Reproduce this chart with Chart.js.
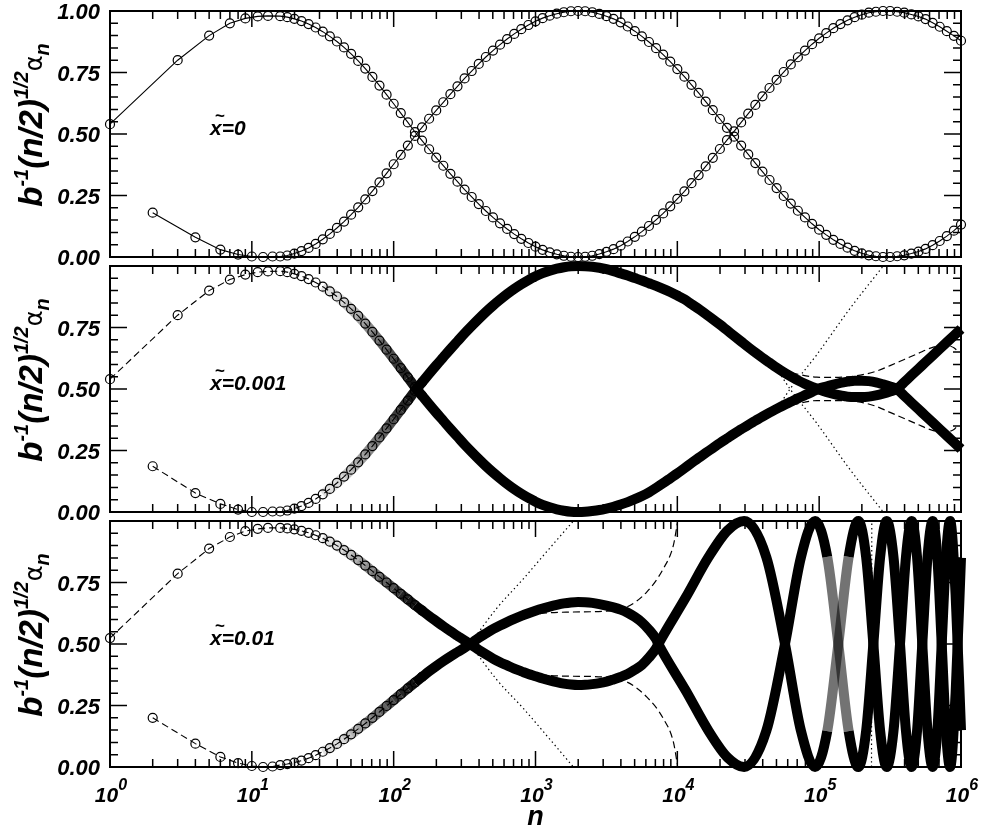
<!DOCTYPE html>
<html>
<head>
<meta charset="utf-8">
<style>
  html, body { margin: 0; padding: 0; background: #fff; }
  #wrap { position: relative; width: 982px; height: 828px; }
  #wrap canvas { position: absolute; left: 0; top: 0; }
</style>
<script src="https://cdn.jsdelivr.net/npm/chart.js@4.4.1/dist/chart.umd.min.js"></script>
</head>
<body>
<div id="wrap">
  <canvas id="pTop" width="982" height="828"></canvas>
  <canvas id="pMid" width="982" height="828"></canvas>
  <canvas id="pBot" width="982" height="828"></canvas>
</div>
<script>
// ---- data ----
const xDecades = [0, 1, 2, 3, 4, 5, 6];
const yTickLabels = ['0.00', '0.25', '0.50', '0.75', '1.00'];
const panelTags = ['=0', '=0.001', '=0.01'];

// first few n (odd n for one branch, even n for the other)
const nOdd = [1, 3, 5, 7, 9, 11, 13];
const nEven = [2, 4, 6, 8, 10, 12, 14];

// log10(n) sampling used for the long parts of the curves
const logGrid = [
  1.20, 1.25, 1.30, 1.35, 1.40, 1.45, 1.50, 1.55, 1.60, 1.65,
  1.70, 1.75, 1.80, 1.85, 1.90, 1.95, 2.00, 2.05, 2.10, 2.15,
  2.20, 2.25, 2.30, 2.35, 2.40, 2.45, 2.50, 2.55, 2.60, 2.65,
  2.70, 2.75, 2.80, 2.85, 2.90, 2.95, 3.00, 3.05, 3.10, 3.15,
  3.20, 3.25, 3.30, 3.35, 3.40, 3.45, 3.50, 3.55, 3.60, 3.65,
  3.70, 3.75, 3.80, 3.85, 3.90, 3.95, 4.00, 4.05, 4.10, 4.15,
  4.20, 4.25, 4.30, 4.35, 4.40, 4.45, 4.50, 4.55, 4.60, 4.65,
  4.70, 4.75, 4.80, 4.85, 4.90, 4.95, 5.00, 5.05, 5.10, 5.15,
  5.20, 5.25, 5.30, 5.35, 5.40, 5.45, 5.50, 5.55, 5.60, 5.65,
  5.70, 5.75, 5.80, 5.85, 5.90, 5.95, 6.00
];

// panel 1, x~=0
const topASmall = [0.54, 0.80, 0.90, 0.95, 0.97, 0.978, 0.98];
const topBSmall = [0.18, 0.08, 0.03, 0.01, 0.002, 0.0, 0.002];
const topA = [
  0.979, 0.975, 0.968, 0.959, 0.947, 0.933, 0.916, 0.897, 0.876, 0.852,
  0.826, 0.797, 0.766, 0.732, 0.697, 0.660, 0.623, 0.585, 0.547, 0.508,
  0.473, 0.438, 0.404, 0.371, 0.338, 0.306, 0.274, 0.244, 0.215, 0.187,
  0.161, 0.137, 0.114, 0.093, 0.074, 0.057, 0.042, 0.029, 0.019, 0.011,
  0.005, 0.001, 0.000, 0.001, 0.005, 0.012, 0.021, 0.032, 0.046, 0.063,
  0.082, 0.103, 0.126, 0.151, 0.177, 0.206, 0.236, 0.267, 0.300, 0.333,
  0.368, 0.403, 0.439, 0.475, 0.511, 0.547, 0.583, 0.618, 0.653, 0.687,
  0.720, 0.752, 0.783, 0.812, 0.839, 0.865, 0.889, 0.910, 0.930, 0.947,
  0.962, 0.975, 0.985, 0.993, 0.997, 1.000, 1.000, 0.997, 0.993, 0.986,
  0.978, 0.967, 0.952, 0.936, 0.918, 0.899, 0.879
];
const topB = [
  0.002, 0.006, 0.014, 0.024, 0.037, 0.053, 0.072, 0.094, 0.118, 0.144,
  0.172, 0.202, 0.234, 0.268, 0.303, 0.340, 0.377, 0.415, 0.453, 0.492,
  0.527, 0.562, 0.596, 0.629, 0.662, 0.694, 0.726, 0.756, 0.785, 0.813,
  0.839, 0.863, 0.886, 0.907, 0.926, 0.943, 0.958, 0.971, 0.981, 0.989,
  0.995, 0.999, 1.000, 0.999, 0.995, 0.988, 0.979, 0.968, 0.954, 0.937,
  0.918, 0.897, 0.874, 0.849, 0.823, 0.794, 0.764, 0.733, 0.700, 0.667,
  0.632, 0.597, 0.561, 0.525, 0.489, 0.453, 0.417, 0.382, 0.347, 0.313,
  0.280, 0.248, 0.217, 0.188, 0.161, 0.135, 0.111, 0.090, 0.070, 0.053,
  0.038, 0.025, 0.015, 0.007, 0.003, 0.000, 0.000, 0.003, 0.007, 0.014,
  0.022, 0.033, 0.048, 0.065, 0.085, 0.107, 0.132
];

// panel 2, x~=0.001
const midASmall = [0.54, 0.80, 0.90, 0.945, 0.965, 0.975, 0.978];
const midBSmall = [0.186, 0.077, 0.033, 0.01, 0.0, 0.0, 0.002];
const midA = [
  0.979, 0.975, 0.968, 0.959, 0.947, 0.933, 0.916, 0.897, 0.876, 0.852,
  0.826, 0.797, 0.766, 0.732, 0.697, 0.660, 0.623, 0.585, 0.547, 0.508,
  0.473, 0.438, 0.404, 0.371, 0.338, 0.306, 0.274, 0.244, 0.215, 0.187,
  0.161, 0.137, 0.114, 0.093, 0.074, 0.057, 0.042, 0.029, 0.019, 0.011,
  0.005, 0.001, 0.000, 0.001, 0.004, 0.008, 0.014, 0.021, 0.030, 0.040,
  0.052, 0.065, 0.080, 0.098, 0.117, 0.137, 0.157, 0.178, 0.199, 0.220,
  0.240, 0.260, 0.280, 0.299, 0.318, 0.336, 0.354, 0.371, 0.388, 0.404,
  0.419, 0.434, 0.448, 0.462, 0.475, 0.488, 0.502, 0.510, 0.518, 0.525,
  0.530, 0.534, 0.534, 0.532, 0.527, 0.519, 0.510, 0.499, 0.472, 0.445,
  0.418, 0.391, 0.364, 0.337, 0.310, 0.283, 0.256
];
const midB = [
  0.002, 0.006, 0.014, 0.024, 0.037, 0.053, 0.072, 0.094, 0.118, 0.144,
  0.172, 0.202, 0.234, 0.268, 0.303, 0.340, 0.377, 0.415, 0.453, 0.492,
  0.527, 0.562, 0.596, 0.629, 0.662, 0.694, 0.726, 0.756, 0.785, 0.813,
  0.839, 0.863, 0.886, 0.907, 0.926, 0.943, 0.958, 0.971, 0.981, 0.989,
  0.995, 0.999, 1.000, 0.999, 0.997, 0.993, 0.987, 0.979, 0.970, 0.961,
  0.951, 0.941, 0.930, 0.919, 0.907, 0.894, 0.880, 0.865, 0.845, 0.826,
  0.805, 0.784, 0.762, 0.739, 0.716, 0.693, 0.670, 0.648, 0.627, 0.607,
  0.587, 0.568, 0.551, 0.535, 0.521, 0.509, 0.498, 0.488, 0.480, 0.474,
  0.469, 0.467, 0.467, 0.469, 0.474, 0.481, 0.490, 0.501, 0.528, 0.555,
  0.582, 0.609, 0.636, 0.663, 0.690, 0.717, 0.744
];
const midDashLog = [4.60, 4.724, 4.85, 4.983, 5.10, 5.265, 5.40, 5.50, 5.60, 5.688, 5.805, 5.899, 5.95, 5.975];
const midDashUp = [0.627, 0.581, 0.560, 0.548, 0.547, 0.554, 0.572, 0.595, 0.620, 0.642, 0.670, 0.676, 0.668, 0.655];
const midDashLo = [0.373, 0.419, 0.440, 0.453, 0.453, 0.449, 0.430, 0.405, 0.380, 0.358, 0.331, 0.327, 0.335, 0.350];
const midDotLog = [4.70, 4.795, 4.98, 5.217, 5.452];
const midDotUp = [0.417, 0.50, 0.637, 0.827, 1.0];
const midDotLo = [0.583, 0.50, 0.363, 0.173, 0.0];

// panel 3, x~=0.01 (grid part runs 1.20 .. 3.85)
const botASmall = [0.524, 0.786, 0.888, 0.935, 0.959, 0.968, 0.972];
const botBSmall = [0.20, 0.095, 0.041, 0.016, 0.004, 0.0, 0.002];
const botA = [
  0.972, 0.970, 0.966, 0.960, 0.952, 0.942, 0.930, 0.916, 0.900, 0.882,
  0.862, 0.841, 0.819, 0.796, 0.773, 0.750, 0.727, 0.704, 0.681, 0.658,
  0.636, 0.614, 0.593, 0.572, 0.552, 0.533, 0.514, 0.496, 0.476, 0.458,
  0.441, 0.426, 0.413, 0.400, 0.389, 0.378, 0.369, 0.360, 0.352, 0.345,
  0.339, 0.335, 0.333, 0.334, 0.337, 0.341, 0.347, 0.356, 0.366, 0.378,
  0.395, 0.415, 0.445, 0.482
];
const botB = [
  0.008, 0.012, 0.018, 0.026, 0.036, 0.048, 0.062, 0.077, 0.094, 0.113,
  0.133, 0.155, 0.177, 0.200, 0.224, 0.248, 0.272, 0.296, 0.320, 0.343,
  0.366, 0.389, 0.410, 0.430, 0.449, 0.467, 0.485, 0.504, 0.525, 0.543,
  0.560, 0.575, 0.589, 0.602, 0.614, 0.625, 0.635, 0.644, 0.652, 0.659,
  0.665, 0.669, 0.671, 0.670, 0.667, 0.662, 0.656, 0.649, 0.640, 0.627,
  0.610, 0.588, 0.558, 0.520
];
const botLateLog = [3.866, 4.061, 4.221, 4.355, 4.471, 4.627, 4.759, 4.872, 4.971, 5.057,
  5.135, 5.208, 5.276, 5.331, 5.382, 5.430, 5.476, 5.524, 5.570, 5.612,
  5.652, 5.690, 5.727, 5.764, 5.800, 5.833, 5.864, 5.894, 5.923, 5.962, 6.000];
const botALate = [0.5, 0.691, 0.854, 0.962, 1.0, 0.854, 0.5, 0.146, 0.0, 0.146,
  0.5, 0.854, 1.0, 0.854, 0.5, 0.146, 0.0, 0.146, 0.5, 0.854,
  1.0, 0.854, 0.5, 0.146, 0.0, 0.146, 0.5, 0.854, 1.0, 0.70, 0.15];
const botBLate = [0.5, 0.309, 0.146, 0.038, 0.0, 0.146, 0.5, 0.854, 1.0, 0.854,
  0.5, 0.146, 0.0, 0.146, 0.5, 0.854, 1.0, 0.854, 0.5, 0.146,
  0.0, 0.146, 0.5, 0.854, 1.0, 0.854, 0.5, 0.146, 0.0, 0.30, 0.85];
const botDashLog = [2.54, 2.65, 2.797, 3.032, 3.267, 3.478, 3.643, 3.784, 3.901, 3.972, 4.0];
const botDashUp = [0.5, 0.545, 0.589, 0.623, 0.630, 0.633, 0.650, 0.711, 0.806, 0.901, 0.99];
const botDashLo = [0.5, 0.455, 0.413, 0.376, 0.369, 0.366, 0.346, 0.285, 0.197, 0.102, 0.012];
const botDotLog = [2.538, 2.725, 2.916, 3.077, 3.267];
const botDotUp = [0.5, 0.644, 0.766, 0.874, 1.0];
const botDotLo = [0.5, 0.356, 0.237, 0.129, 0.0];
const botDotVLog = [5.369, 5.371];
const botDotV = [0.0, 1.0];

// ---- helpers ----
const FONT = '"Liberation Sans", Arial, sans-serif';

const byN = (ns, vals) => ns.map((n, i) => ({ x: n, y: vals[i] }));
const byLog = (logs, vals) => logs.map((l, i) => ({ x: Math.pow(10, l), y: vals[i] }));
const seg = (logs, vals, lo, hi) => {
  const out = [];
  logs.forEach((l, i) => {
    if (i < vals.length && l >= lo - 1e-9 && l <= hi + 1e-9) out.push({ x: Math.pow(10, l), y: vals[i] });
  });
  return out;
};

// dense marker chains look lighter where the symbols are still apart:
// fade the band in at its start, and grey the steep parts of the first fast swings
const bandShade = (swings) => (c) => {
  const L0 = Math.log10(c.p0.parsed.x);
  const y0 = c.p0.parsed.y, y1 = c.p1.parsed.y;
  if (L0 < 2.15) {
    const a = Math.max(0.12, Math.min(1, (L0 - 1.5) / 0.65));
    return 'rgba(0,0,0,' + a.toFixed(2) + ')';
  }
  if (swings && L0 > 4.97 && L0 < 5.3) {
    const steep = Math.min(y0, y1) >= 0.14 && Math.max(y0, y1) <= 0.86;
    if (steep) return 'rgba(0,0,0,0.55)';
  }
  return '#000';
};

const circles = (data, dash) => ({
  data, borderColor: '#000', borderWidth: 1.1, borderDash: dash || [],
  pointRadius: 4.5, pointBorderWidth: 1.2, pointStyle: 'circle',
  pointBackgroundColor: 'rgba(0,0,0,0)', pointBorderColor: '#000',
  fill: false, clip: false, tension: 0
});
const band = (data, swings) => ({
  data, borderColor: '#000', borderWidth: 10, pointRadius: 0,
  fill: false, clip: false, cubicInterpolationMode: 'monotone',
  borderJoinStyle: 'round', borderCapStyle: 'butt',
  segment: { borderColor: bandShade(swings) }
});
const thin = (data, dash) => ({
  data, borderColor: '#000', borderWidth: 1.2, borderDash: dash, pointRadius: 0,
  fill: false, clip: false, cubicInterpolationMode: 'monotone'
});
const DASH = [7, 4];
const DOT = [1.4, 3];

function drawYTitle(ctx, cx, cy) {
  const parts = [
    { t: 'b', f: 'italic bold 33px ' + FONT, dy: 0 },
    { t: '-1', f: 'italic bold 20px ' + FONT, dy: -14 },
    { t: '(n/2)', f: 'italic bold 33px ' + FONT, dy: 0 },
    { t: '1/2', f: 'italic bold 20px ' + FONT, dy: -14 },
    { t: 'α', f: '24px "DejaVu Sans"', dy: 0 },
    { t: 'n', f: 'italic bold 20px ' + FONT, dy: 7 }
  ];
  ctx.save();
  ctx.textAlign = 'left';
  ctx.textBaseline = 'alphabetic';
  ctx.translate(cx, cy);
  ctx.rotate(-Math.PI / 2);
  let w = 0;
  parts.forEach(p => { ctx.font = p.f; p.w = ctx.measureText(p.t).width; w += p.w; });
  let x = -w / 2;
  parts.forEach(p => { ctx.font = p.f; ctx.fillText(p.t, x, p.dy); x += p.w; });
  ctx.restore();
}

const frame = {
  id: 'frame',
  afterDraw(chart, args, opts) {
    const ctx = chart.ctx, a = chart.chartArea;
    const xs = chart.scales.x, ys = chart.scales.y;
    ctx.save();
    ctx.strokeStyle = '#000';
    ctx.fillStyle = '#000';

    // ticks, inward on all four sides
    ctx.lineWidth = 1.5;
    ctx.beginPath();
    for (let e = 0; e < 6; e++) {
      for (let m = 1; m <= 9; m++) {
        const px = xs.getPixelForValue(m * Math.pow(10, e));
        const len = m === 1 ? 16 : 8;
        ctx.moveTo(px, a.bottom); ctx.lineTo(px, a.bottom - len);
        ctx.moveTo(px, a.top); ctx.lineTo(px, a.top + len);
      }
    }
    for (let k = 0; k <= 20; k++) {
      const py = ys.getPixelForValue(k * 0.05);
      const len = k % 5 === 0 ? 17 : 8;
      ctx.moveTo(a.left, py); ctx.lineTo(a.left + len, py);
      ctx.moveTo(a.right, py); ctx.lineTo(a.right - len, py);
    }
    ctx.stroke();

    ctx.lineWidth = 2;
    ctx.strokeRect(a.left, a.top, a.right - a.left, a.bottom - a.top);

    // y tick labels
    ctx.font = 'italic bold 22px ' + FONT;
    ctx.textAlign = 'right';
    ctx.textBaseline = 'alphabetic';
    yTickLabels.forEach((lab, i) => {
      if (!opts.showTop && i === yTickLabels.length - 1) return;
      ctx.fillText(lab, a.left - 10, ys.getPixelForValue(i * 0.25) + 8);
    });

    // y title
    drawYTitle(ctx, 42, (a.top + a.bottom) / 2 - 9);

    // panel tag  x~=...
    ctx.textAlign = 'left';
    const ty = a.top + 124;
    ctx.font = 'italic bold 21px ' + FONT;
    ctx.fillText('x' + opts.tag, 210, ty);
    ctx.font = 'bold 17px ' + FONT;
    ctx.textAlign = 'center';
    ctx.fillText('~', 220, ty - 14);

    // x labels on the bottom panel
    if (opts.xLabels) {
      xDecades.forEach(d => {
        const px = xs.getPixelForValue(Math.pow(10, d));
        ctx.font = 'italic bold 21px ' + FONT;
        const w1 = ctx.measureText('10').width;
        ctx.font = 'italic bold 16px ' + FONT;
        const w2 = ctx.measureText(String(d)).width;
        const x0 = px + 1 - (w1 + w2) / 2;
        ctx.textAlign = 'left';
        ctx.font = 'italic bold 21px ' + FONT;
        ctx.fillText('10', x0, a.bottom + 35);
        ctx.font = 'italic bold 16px ' + FONT;
        ctx.fillText(String(d), x0 + w1, a.bottom + 23);
      });
      ctx.textAlign = 'center';
      ctx.font = 'italic bold 27px ' + FONT;
      ctx.fillText('n', xs.getPixelForValue(1000), a.bottom + 58);
    }
    ctx.restore();
  }
};

function makeChart(id, pad, datasets, panel) {
  return new Chart(document.getElementById(id), {
    type: 'line',
    data: { datasets },
    options: {
      responsive: false,
      animation: false,
      devicePixelRatio: 1,
      events: [],
      layout: { padding: pad },
      plugins: { legend: { display: false }, tooltip: { enabled: false }, frame: panel },
      scales: {
        x: { type: 'logarithmic', min: 1, max: 1e6, display: false },
        y: { type: 'linear', min: 0, max: 1, display: false }
      }
    },
    plugins: [frame]
  });
}

// ---- panels ----
makeChart('pTop', { left: 110, right: 21, top: 11, bottom: 571 }, [
  circles(byN(nOdd, topASmall).concat(byLog(logGrid, topA))),
  circles(byN(nEven, topBSmall).concat(byLog(logGrid, topB)))
], { tag: panelTags[0], showTop: true, xLabels: false });

makeChart('pMid', { left: 110, right: 21, top: 266, bottom: 316 }, [
  circles(byN(nOdd, midASmall).concat(seg(logGrid, midA, 1.2, 2.2)), DASH),
  circles(byN(nEven, midBSmall).concat(seg(logGrid, midB, 1.2, 2.2)), DASH),
  band(seg(logGrid, midA, 1.5, 6.0), false),
  band(seg(logGrid, midB, 1.5, 6.0), false),
  thin(byLog(midDashLog, midDashUp), DASH),
  thin(byLog(midDashLog, midDashLo), DASH),
  thin(byLog(midDotLog, midDotUp), DOT),
  thin(byLog(midDotLog, midDotLo), DOT)
], { tag: panelTags[1], showTop: false, xLabels: false });

makeChart('pBot', { left: 110, right: 21, top: 521, bottom: 61 }, [
  circles(byN(nOdd, botASmall).concat(seg(logGrid, botA, 1.2, 2.2)), DASH),
  circles(byN(nEven, botBSmall).concat(seg(logGrid, botB, 1.2, 2.2)), DASH),
  band(seg(logGrid, botA, 1.5, 3.85).concat(byLog(botLateLog, botALate)), true),
  band(seg(logGrid, botB, 1.5, 3.85).concat(byLog(botLateLog, botBLate)), true),
  thin(byLog(botDashLog, botDashUp), DASH),
  thin(byLog(botDashLog, botDashLo), DASH),
  thin(byLog(botDotLog, botDotUp), DOT),
  thin(byLog(botDotLog, botDotLo), DOT),
  thin(byLog(botDotVLog, botDotV), DOT)
], { tag: panelTags[2], showTop: false, xLabels: true });
</script>
</body>
</html>
